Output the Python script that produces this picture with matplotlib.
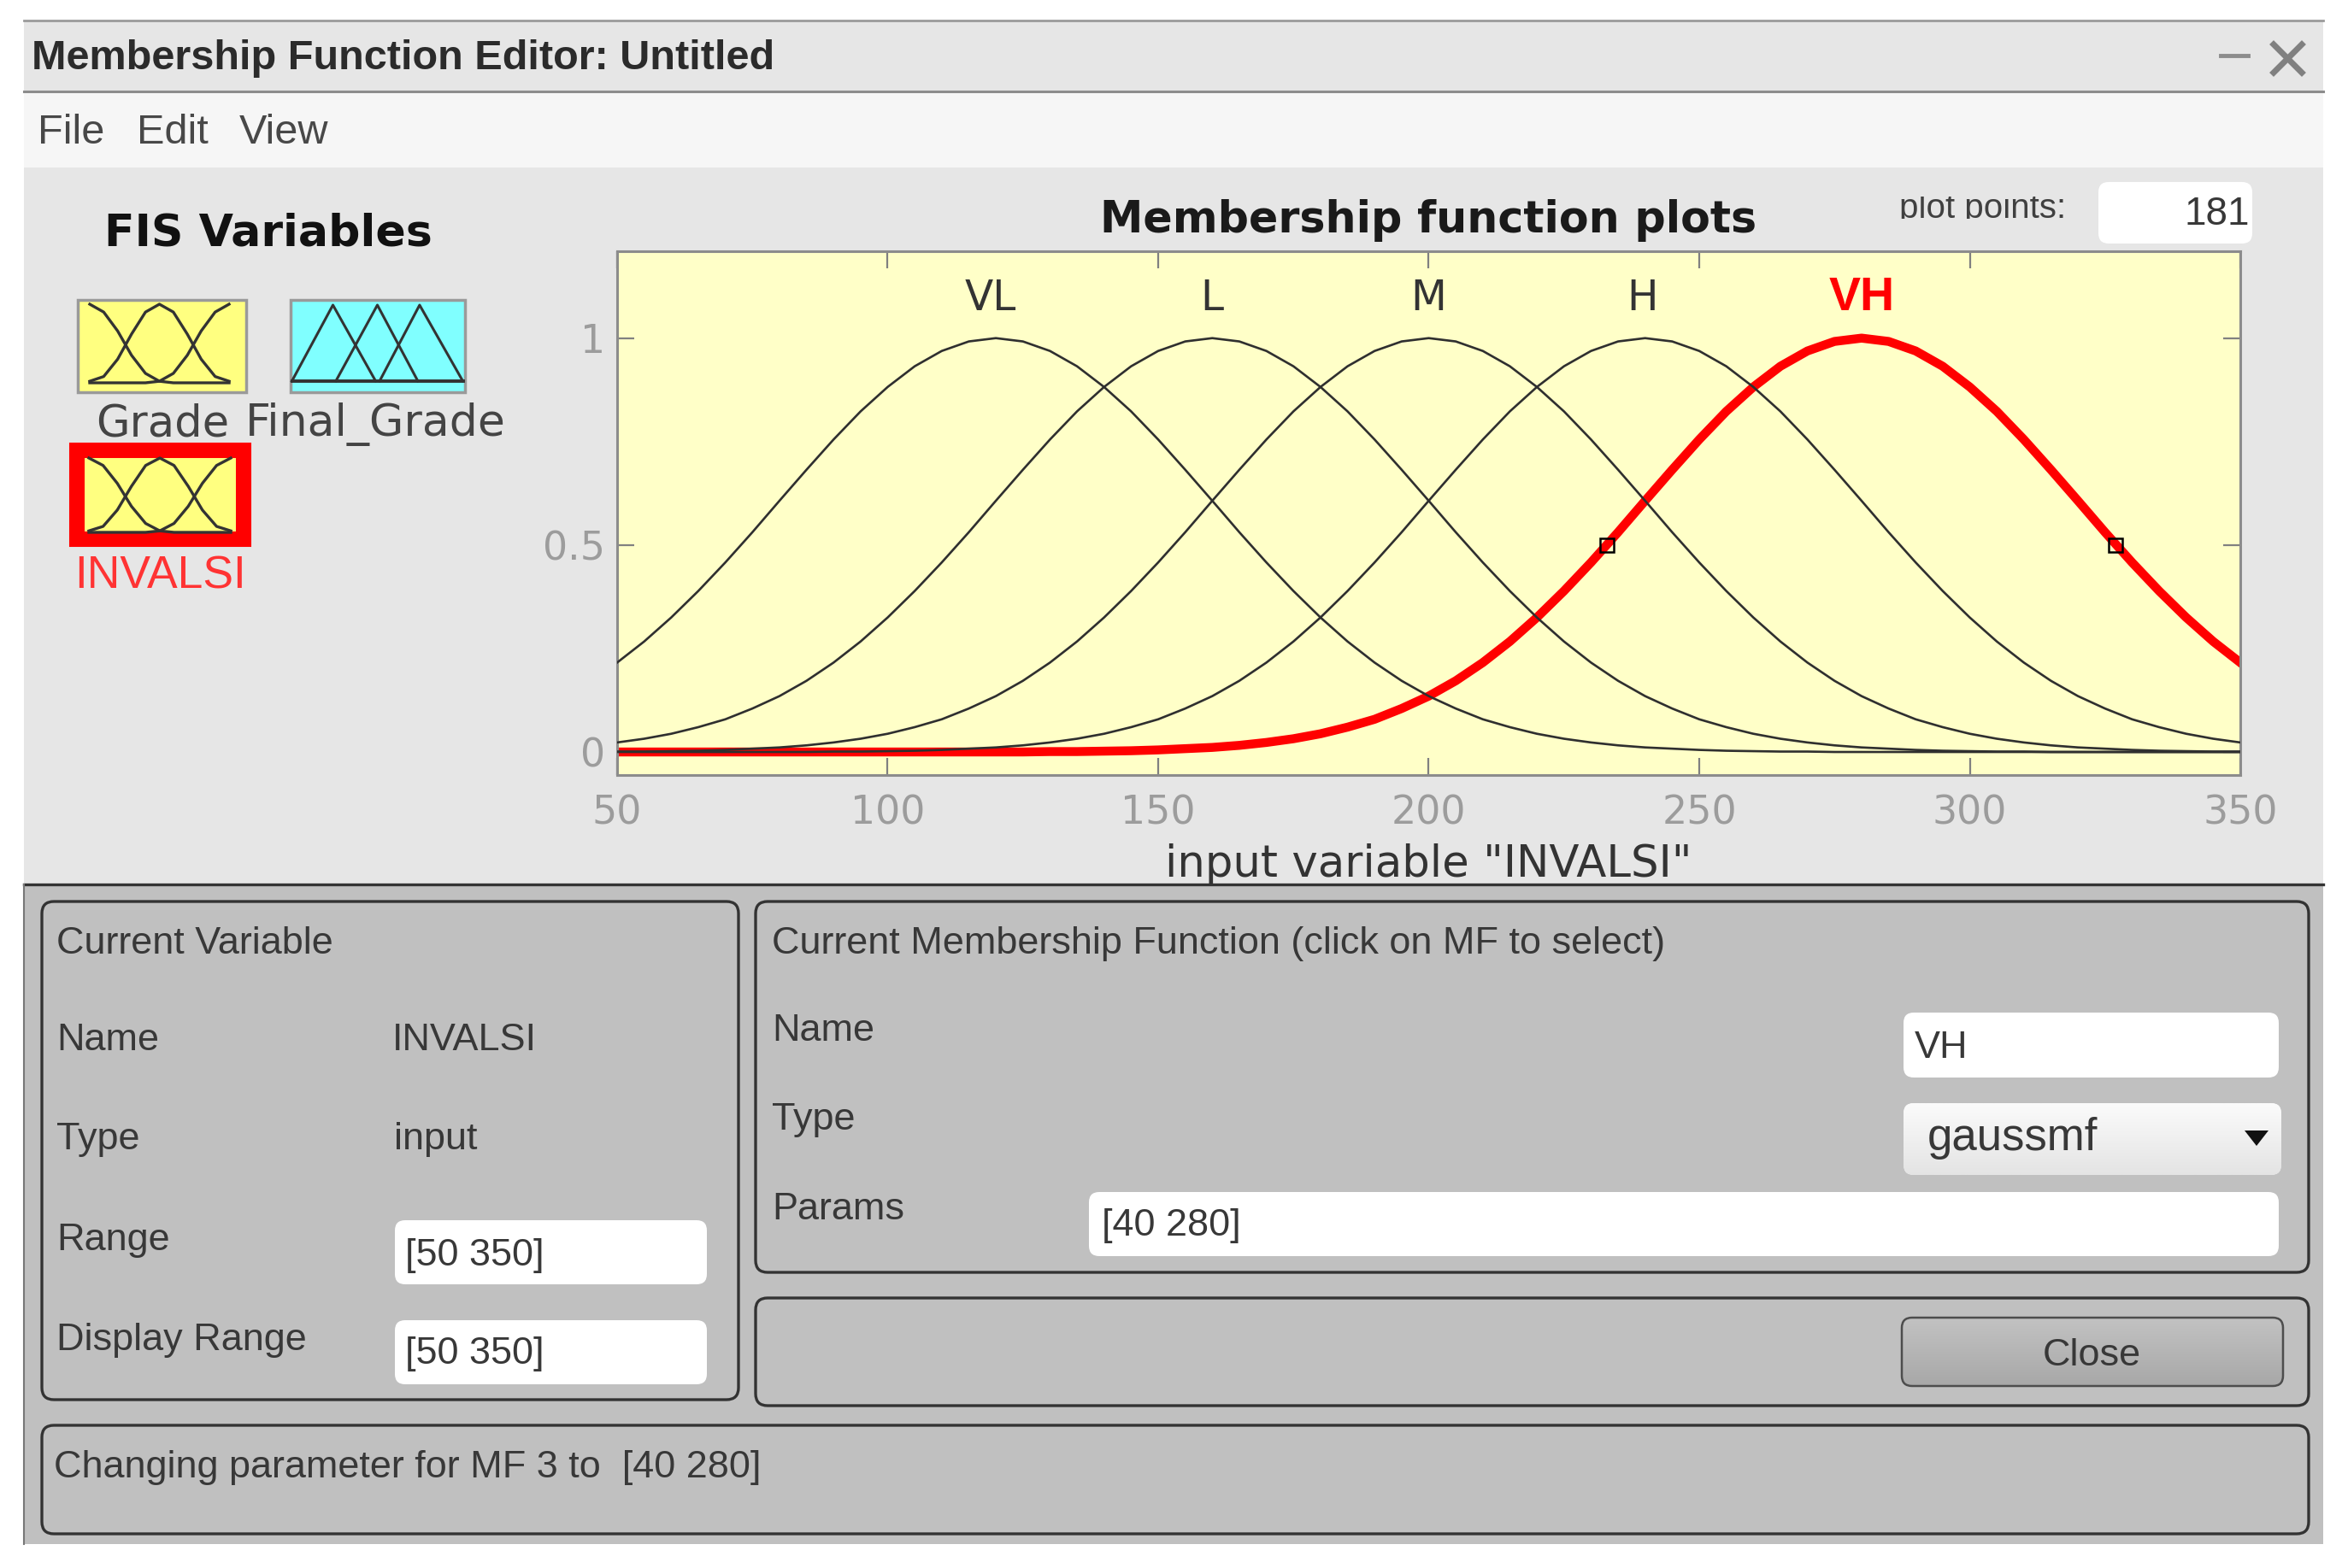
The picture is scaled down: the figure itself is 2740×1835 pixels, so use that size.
import numpy as np
import matplotlib
matplotlib.use('Agg')
import matplotlib.pyplot as plt
from matplotlib.patches import FancyBboxPatch, Rectangle, Polygon

W, H = 2740, 1835

# curves
x_vals = [50, 55, 60, 65, 70, 75, 80, 85, 90, 95, 100, 105, 110, 115, 120, 125, 130, 135, 140, 145,
          150, 155, 160, 165, 170, 175, 180, 185, 190, 195, 200, 205, 210, 215, 220, 225, 230, 235, 240, 245,
          250, 255, 260, 265, 270, 275, 280, 285, 290, 295, 300, 305, 310, 315, 320, 325, 330, 335, 340, 345, 350]
vl_vals = [.216, .267, .325, .389, .458, .531, .607, .682, .755, .823, .882, .932, .969, .992, 1,
           .992, .969, .932, .882, .823, .755, .682, .607, .531, .458, .389, .325, .267, .216, .172,
           .135, .105, .079, .060, .044, .032, .023, .016, .011, .008, .005, .003, .002, .001, .001,
           0, 0, 0, 0, 0, 0, 0, 0, 0, 0, 0, 0, 0, 0, 0, 0]
l_vals = [.023, .032, .044, .060, .079, .105, .135, .172, .216, .267, .325, .389, .458, .531, .607,
          .682, .755, .823, .882, .932, .969, .992, 1,
          .992, .969, .932, .882, .823, .755, .682, .607, .531, .458, .389, .325, .267, .216, .172,
          .135, .105, .079, .060, .044, .032, .023, .016, .011, .008, .005, .003, .002, .001, .001,
          0, 0, 0, 0, 0, 0, 0, 0]
m_vals = [.001, .001, .002, .003, .005, .008, .011, .016,
          .023, .032, .044, .060, .079, .105, .135, .172, .216, .267, .325, .389, .458, .531, .607,
          .682, .755, .823, .882, .932, .969, .992, 1,
          .992, .969, .932, .882, .823, .755, .682, .607, .531, .458, .389, .325, .267, .216, .172,
          .135, .105, .079, .060, .044, .032, .023, .016, .011, .008, .005, .003, .002, .001, .001]
h_vals = [0, 0, 0, 0, 0, 0, 0, 0,
          .001, .001, .002, .003, .005, .008, .011, .016,
          .023, .032, .044, .060, .079, .105, .135, .172, .216, .267, .325, .389, .458, .531, .607,
          .682, .755, .823, .882, .932, .969, .992, 1,
          .992, .969, .932, .882, .823, .755, .682, .607, .531, .458, .389, .325, .267, .216, .172,
          .135, .105, .079, .060, .044, .032, .023]
vh_vals = [0, 0, 0, 0, 0, 0, 0, 0, 0, 0, 0, 0, 0, 0, 0, 0,
           .001, .001, .002, .003, .005, .008, .011, .016,
           .023, .032, .044, .060, .079, .105, .135, .172, .216, .267, .325, .389, .458, .531, .607,
           .682, .755, .823, .882, .932, .969, .992, 1,
           .992, .969, .932, .882, .823, .755, .682, .607, .531, .458, .389, .325, .267, .216]
mf_names = ['VL', 'L', 'M', 'H']
mf_peaks = [119, 160, 200, 239.5]
vh_peak = 280
handle_x = [233, 327]
handle_y = [0.5, 0.5]
x_ticks = [50, 100, 150, 200, 250, 300, 350]
y_ticks = [0, 0.5, 1]
y_ticklabels = ['0', '0.5', '1']

# little icon curves
icon_x = [0, .1, .2, .3, .4, .5, .6, .7, .8, .9, 1]
icon_left = [1, .9, .66, .35, .12, .02, 0, 0, 0, 0, 0]
icon_mid = [.02, .08, .3, .62, .9, 1, .9, .62, .3, .08, .02]
icon_right = [0, 0, 0, 0, 0, .02, .12, .35, .66, .9, 1]
tri_a_x, tri_a_y = [0, .24, .49], [0, 1, 0]
tri_b_x, tri_b_y = [.257, .5, .737], [0, 1, 0]
tri_c_x, tri_c_y = [.513, .747, 1], [0, 1, 0]

UI = 'Liberation Sans'
TXT = '#383838'
DARK = '#333333'

fig = plt.figure(figsize=(W / 100, H / 100), dpi=100, facecolor='white')


def pixel_axes(z):
    a = fig.add_axes([0, 0, 1, 1], zorder=z)
    a.set_xlim(0, W)
    a.set_ylim(H, 0)
    a.axis('off')
    return a


def sub_axes(x0, y0, x1, y1, z):
    a = fig.add_axes([x0 / W, 1 - y1 / H, (x1 - x0) / W, (y1 - y0) / H], zorder=z)
    return a


def rbox(a, x0, y0, x1, y1, r=10, fc='white', ec='none', lw=0):
    p = FancyBboxPatch((x0 + r, y0 + r), x1 - x0 - 2 * r, y1 - y0 - 2 * r,
                       boxstyle=f'round,pad={r},rounding_size={r}', fc=fc, ec=ec, lw=lw)
    a.add_patch(p)
    return p


def label(a, x, y, s, size=32.4, color=TXT, family=UI, **kw):
    return a.text(x, y, s, fontsize=size, color=color, family=family, va='baseline', **kw)


def gradient(a, patch, x0, y0, x1, y1, top, bottom):
    c0 = np.array(matplotlib.colors.to_rgb(top))
    c1 = np.array(matplotlib.colors.to_rgb(bottom))
    grad = np.linspace(0, 1, 64)[:, None, None] * (c1 - c0) + c0
    im = a.imshow(grad, extent=(x0, x1, y1, y0), aspect='auto', zorder=patch.get_zorder() + 0.1)
    im.set_clip_path(patch)
    a.set_xlim(0, W)
    a.set_ylim(H, 0)


# window background
back = pixel_axes(0)
back.add_patch(Rectangle((28, 24), 2690, 83, fc='#e6e6e6', ec='none'))
back.add_patch(Rectangle((28, 107), 2690, 90, fc='#f6f6f6', ec='none'))
back.add_patch(Rectangle((28, 196), 2690, 840, fc='#e6e6e6', ec='none'))
back.plot([28, 2718], [24, 24], color='#9a9a9a', lw=2)
back.plot([28, 2718], [107, 107], color='#8c8c8c', lw=2.2)

label(back, 37, 81, 'Membership Function Editor: Untitled', size=35, color='#2b2b2b', fontweight='bold')
back.plot([2598, 2630], [65, 65], color='#8c8c8c', lw=3.5)
back.plot([2660, 2693], [52, 85], color='#808080', lw=5)
back.plot([2660, 2693], [85, 52], color='#808080', lw=5)

label(back, 44, 168, 'File', size=35, color='#484848')
label(back, 160, 168, 'Edit', size=35, color='#484848')
label(back, 280, 168, 'View', size=35, color='#484848')

label(back, 122, 288, 'FIS Variables', size=37.5, color='#111111', family='DejaVu Sans', fontweight='bold')

# variable icons
back.add_patch(Rectangle((91, 351), 197, 108, fc='#ffff80', ec='#9a9a9a', lw=2.5))
back.add_patch(Rectangle((340, 351), 204, 108, fc='#80ffff', ec='#9a9a9a', lw=2.5))
back.add_patch(Rectangle((90, 527), 195, 104, fc='#ffff80', ec='#ff0000', lw=13))
for box in [(105, 356, 268, 448), (104, 536, 270, 623)]:
    ia = sub_axes(*box, 1)
    ia.axis('off')
    ia.set_xlim(0, 1)
    ia.set_ylim(0, 1)
    for ys in (icon_left, icon_mid, icon_right):
        ia.plot(icon_x, ys, color=DARK, lw=2.4, clip_on=False)
ta = sub_axes(341.5, 357, 541.5, 446, 1)
ta.axis('off')
ta.set_xlim(0, 1)
ta.set_ylim(0, 1)
for tx, ty in ((tri_a_x, tri_a_y), (tri_b_x, tri_b_y), (tri_c_x, tri_c_y)):
    ta.plot(tx, ty, color=DARK, lw=2.2, clip_on=False)
ta.plot([0, 1], [0, 0], color=DARK, lw=2.8, clip_on=False)

label(back, 112, 510, 'Grade', size=36.8, color='#444444', family='DejaVu Sans')
label(back, 287, 510, 'Final_Grade', size=37.5, color='#444444', family='DejaVu Sans')
label(back, 87, 688, 'INVALSI', size=38.5, color='#ff3333')

# plot points box
rbox(back, 2455, 213, 2635, 285, r=12, fc='white')
pp = label(back, 2222, 255, 'plot points:', size=29, color='#404040')
pp.set_clip_on(True)
pp.set_clip_path(Rectangle((2200, 230), 250, 26, transform=back.transData))
label(back, 2632, 263, '181', size=33, color='#383838', ha='right')

# membership function plot
ax = sub_axes(722, 294, 2621, 907, 1)
ax.set_facecolor('#ffffc8')
ax.set_xlim(50, 350)
ax.set_ylim(-0.0557, 1.21)
ax.plot(x_vals, vh_vals, color='#ff0000', lw=7.5, solid_joinstyle='round', zorder=2)
for ys in (vl_vals, l_vals, m_vals, h_vals):
    ax.plot(x_vals, ys, color='#2f2f2f', lw=1.9, zorder=3)
ax.plot(handle_x, handle_y, ls='none', marker='s', ms=12, mfc='none', mec='black', mew=1.8, zorder=4)
for nm, pk in zip(mf_names, mf_peaks):
    ax.text(pk, 1.097, nm, ha='center', va='center', fontsize=35, color='#333333')
ax.text(vh_peak, 1.097, 'VH', ha='center', va='center', fontsize=40, color='#ff0000', family=UI, fontweight='bold')
ax.set_xticks(x_ticks)
ax.set_yticks(y_ticks)
ax.set_yticklabels(y_ticklabels)
ax.tick_params(axis='both', direction='in', length=14.5, width=1.6, color='#808080',
               labelcolor='#9c9c9c', labelsize=33, top=True, right=True)
ax.tick_params(axis='x', pad=16)
ax.tick_params(axis='y', pad=10)
for sp in ax.spines.values():
    sp.set_color('#8c8c8c')
    sp.set_linewidth(2.2)
ax.set_title('Membership function plots', fontsize=36.5, fontweight='bold', color='#1a1a1a', pad=16)
ax.set_xlabel('input variable "INVALSI"', fontsize=37, color='#333333', labelpad=9)

# lower panel, drawn over the plot so the label gets cut by it
front = pixel_axes(3)
front.add_patch(Rectangle((28, 1035), 2690, 772, fc='#c0c0c0', ec='none'))
front.plot([28, 2718], [1035, 1035], color=DARK, lw=2.4)
front.plot([28, 28], [1035, 1807], color='#777777', lw=1.5)
for b in [(49, 1055, 864, 1638), (884, 1055, 2701, 1489), (884, 1519, 2701, 1645), (49, 1668, 2701, 1795)]:
    rbox(front, *b, r=14, fc='none', ec=DARK, lw=2.4)

label(front, 66, 1116, 'Current Variable')
label(front, 66, 1229, 'Name')
label(front, 459, 1229, 'INVALSI')
label(front, 66, 1345, 'Type')
label(front, 461, 1345, 'input')
label(front, 66, 1463, 'Range')
label(front, 66, 1580, 'Display Range')
rbox(front, 462, 1428, 827, 1503, r=12, fc='white')
rbox(front, 462, 1545, 827, 1620, r=12, fc='white')
label(front, 474, 1481, '[50 350]')
label(front, 474, 1596, '[50 350]')

label(front, 903, 1116, 'Current Membership Function (click on MF to select)')
label(front, 903, 1218, 'Name')
label(front, 903, 1322, 'Type')
label(front, 903, 1427, 'Params')
rbox(front, 2227, 1185, 2666, 1261, r=12, fc='white')
label(front, 2240, 1238, 'VH')
rbox(front, 1274, 1395, 2666, 1470, r=12, fc='white')
label(front, 1289, 1446, '[40 280]')

drop = rbox(front, 2227, 1291, 2669, 1375, r=12, fc='#f4f4f4', ec='none')
gradient(front, drop, 2227, 1291, 2669, 1375, '#fbfbfb', '#e4e4e4')
label(front, 2255, 1346, 'gaussmf', size=38, zorder=4)
front.add_patch(Polygon([(2626, 1323), (2654, 1323), (2640, 1341)], fc='#111111', ec='none', zorder=4))

btn = rbox(front, 2225, 1542, 2671, 1622, r=12, fc='#b4b4b4', ec='none')
gradient(front, btn, 2225, 1542, 2671, 1622, '#c2c2c2', '#a8a8a8')
rbox(front, 2225, 1542, 2671, 1622, r=12, fc='none', ec='#4d4d4d', lw=1.8).set_zorder(4)
label(front, 2447, 1598, 'Close', ha='center', zorder=4)

label(front, 63, 1729, 'Changing parameter for MF 3 to  [40 280]')

plt.savefig('out.png', dpi=100, facecolor='white')
plt.close()
